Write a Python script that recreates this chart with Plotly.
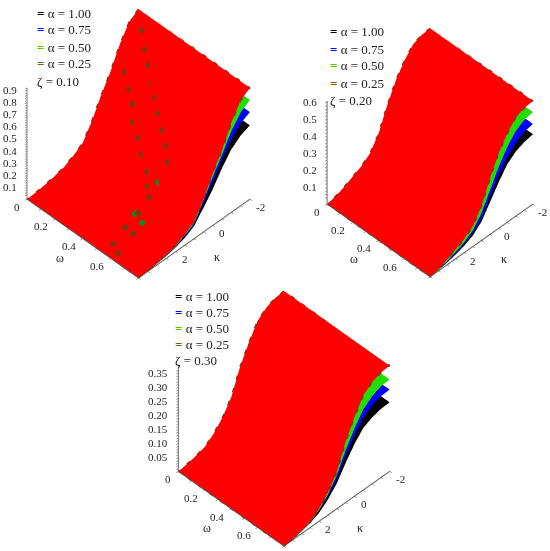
"""Three stacked-surface panels (Maple look): u(omega, kappa) for four alpha values."""
import plotly.graph_objects as go

KAPPA = [-2, -1.5, -1, -0.5, 0, 0.5, 1, 1.5, 2, 2.5, 3, 3.5, 4]
OMEGA = [0, 0.8]
ALPHA_NAMES = ["1.00", "0.75", "0.50", "0.25"]
COLORS = ["#000000", "#0000ff", "#22dd00", "#ff0000"]
KEY_COLORS = ["#000000", "#0000ff", "#55cc00", "#8a5a10"]
EDGE = "#7a3a10"

# zeta = 0.10, profile along kappa, alpha 1.00 / 0.75 / 0.50 / 0.25
P1_A100 = [.61, .58, .52, .42, .30, .20, .105, .06, .035, .018, .009, .003, 0]
P1_A075 = [.72, .68, .60, .49, .36, .24, .115, .07, .04, .022, .011, .004, 0]
P1_A050 = [.82, .77, .67, .53, .40, .26, .125, .08, .045, .026, .013, .0045, 0]
P1_A025 = [.92, .87, .74, .57, .43, .27, .14, .09, .05, .03, .015, .005, 0]

# zeta = 0.20
P2_A100 = [.41, .40, .38, .34, .27, .19, .11, .065, .04, .025, .012, .004, 0]
P2_A075 = [.47, .46, .43, .38, .31, .22, .13, .08, .05, .03, .015, .005, 0]
P2_A050 = [.54, .53, .50, .44, .36, .26, .16, .095, .06, .04, .02, .006, 0]
P2_A025 = [.605, .60, .58, .52, .44, .33, .20, .12, .08, .055, .03, .01, 0]

# zeta = 0.30
P3_A100 = [.245, .243, .235, .22, .185, .14, .09, .055, .03, .016, .008, .002, 0]
P3_A075 = [.29, .288, .278, .255, .215, .165, .105, .065, .037, .018, .009, .003, 0]
P3_A050 = [.326, .323, .31, .285, .24, .185, .118, .072, .04, .019, .0095, .0035, 0]
P3_A025 = [.375, .372, .36, .335, .28, .215, .13, .08, .045, .02, .011, .004, 0]

# dark flecks on the first surface (kappa, omega, height)
FLECK_KAPPA = [-1.48, -1.2, -.97, -.78, -.57, -.34, -.1, .09, .33,
               -.62, -.4, -.17, .09, .28, .49, .72, .97, 1.23, 1.86, 2.6, 2.65, 3.46, 3.67]
FLECK_OMEGA = [.094, .153, .205, .26, .31, .361, .42, .477, .52,
               .086, .146, .198, .239, .301, .357, .424, .464, .506, .511, .519, .58, .545, .609]
FLECK_Z = [.875, .80, .74, .655, .60, .535, .47, .41, .335,
           .62, .55, .495, .41, .35, .28, .22, .155, .125, .07, .04, .04, .016, .014]
GREEN_KAPPA = [.77, 1.95, 2.08]
GREEN_OMEGA = [.51, .5, .57]
GREEN_Z = [.205, .065, .06]

Z1_TICKS = [round(i * 0.02, 2) for i in range(2, 47)]
Z2_TICKS = [round(i * 0.02, 2) for i in range(2, 31)]
Z3_TICKS = [round(i * 0.01, 2) for i in range(1, 37)]
Z1_MAJOR = [0.1, 0.2, 0.3, 0.4, 0.5, 0.6, 0.7, 0.8, 0.9]
Z2_MAJOR = [0.1, 0.2, 0.3, 0.4, 0.5, 0.6]
Z3_MAJOR = [0.05, 0.1, 0.15, 0.2, 0.25, 0.3, 0.35]
KAPPA_TICKS = [-2, -1.5, -1, -0.5, 0, 0.5, 1, 1.5, 2, 2.5, 3, 3.5, 4]
KAPPA_MAJOR = [-2, 0, 2]
OMEGA_TICKS = [0, 0.1, 0.2, 0.3, 0.4, 0.5, 0.6, 0.7, 0.8]
OMEGA_MAJOR = [0, 0.2, 0.4, 0.6]

SERIF = "Liberation Serif"
TICK_FONT = dict(family=SERIF, size=11, color="#222222")
TITLE_FONT = dict(family=SERIF, size=12, color="#222222")


def axis(ticks, rng):
    # labels are placed as scene annotations, plotly's own sit too far along the tick direction
    return dict(
        title=dict(text=""),
        range=rng, autorange=False,
        tickmode="array", tickvals=ticks, ticktext=[""] * len(ticks),
        ticks="outside", ticklen=3, tickcolor="#555555",
        showline=True, linecolor="#555555", linewidth=2,
        showgrid=False, zeroline=False, showbackground=False, showspikes=False,
    )


def note(x, y, z, text, xanchor, xshift, yshift, font=TICK_FONT):
    return dict(x=x, y=y, z=z, text=text, showarrow=False, font=font,
                xanchor=xanchor, yanchor="middle", xshift=xshift, yshift=yshift)


fig = go.Figure()


def add_panel(name, profiles, z_top, z_ticks, z_major, z_fmt, domain, size, z_size, shift=0.0):
    for prof, color in zip(profiles, COLORS):
        fig.add_surface(
            scene=name, x=KAPPA, y=OMEGA, z=[prof, prof],
            colorscale=[[0, color], [1, color]], showscale=False,
            lighting=dict(ambient=1, diffuse=0, specular=0, fresnel=0),
            hoverinfo="skip",
        )
    top = profiles[-1]
    edge_x = KAPPA + [KAPPA[-1], KAPPA[-1]] + KAPPA[::-1] + [KAPPA[0], KAPPA[0]]
    edge_y = [OMEGA[0]] * len(KAPPA) + [OMEGA[0], OMEGA[1]] + [OMEGA[1]] * len(KAPPA) + [OMEGA[1], OMEGA[0]]
    edge_z = top + [top[-1], top[-1]] + top[::-1] + [top[0], top[0]]
    fig.add_scatter3d(
        scene=name, x=edge_x, y=edge_y, z=edge_z, mode="lines",
        line=dict(color=EDGE, width=3, dash="dash"), showlegend=False, hoverinfo="skip",
    )
    notes = [note(4, 0, t, z_fmt(t), "right", -8, 0) for t in z_major]
    notes += [note(k, 0.8, 0, f"{k:g}", "left", 4, -8) for k in KAPPA_MAJOR]
    notes += [note(4, w, 0, f"{w:g}", "right", -5, -8) for w in OMEGA_MAJOR]
    notes.append(note(4, 0.5, 0, "\u03c9", "center", -37, -10, TITLE_FONT))
    notes.append(note(1, 0.8, 0, "\u03ba", "center", 23, -19, TITLE_FONT))
    fig.update_layout({name: dict(
        domain=domain,
        xaxis=axis(KAPPA_TICKS, [-2, 4]),
        yaxis=axis(OMEGA_TICKS, [0, 0.8]),
        zaxis=axis(z_ticks, [0, z_top]),
        annotations=notes,
        # in orthographic mode the aspect ratio, not the eye distance, sets the size
        aspectmode="manual", aspectratio=dict(x=size, y=size, z=z_size),
        camera=dict(
            eye=dict(x=1.25 + shift, y=1.25 - shift, z=1.7678),
            center=dict(x=shift, y=-shift, z=0),
            up=dict(x=0, y=0, z=1),
            projection=dict(type="orthographic"),
        ),
        bgcolor="white",
    )})


add_panel("scene", [P1_A100, P1_A075, P1_A050, P1_A025], 0.92, Z1_TICKS, Z1_MAJOR,
          lambda t: f"{t:.1f}", dict(x=[0, 0.504], y=[0.48, 1]), 1.0985, 1.097)
add_panel("scene2", [P2_A100, P2_A075, P2_A050, P2_A025], 0.605, Z2_TICKS, Z2_MAJOR,
          lambda t: f"{t:.1f}", dict(x=[0.55, 1], y=[0.463, 0.983]), 1.015, 1.015, 0.015)
add_panel("scene3", [P3_A100, P3_A075, P3_A050, P3_A025], 0.375, Z3_TICKS, Z3_MAJOR,
          lambda t: f"{t:.2f}", dict(x=[0.26, 0.773], y=[0, 0.481]), 1.128, 1.128)

fig.add_scatter3d(
    scene="scene", x=FLECK_KAPPA, y=FLECK_OMEGA, z=FLECK_Z, mode="markers",
    marker=dict(color=EDGE, size=2.5, symbol="diamond"), showlegend=False, hoverinfo="skip",
)
fig.add_scatter3d(
    scene="scene", x=GREEN_KAPPA, y=GREEN_OMEGA, z=GREEN_Z, mode="markers",
    marker=dict(color="#0a8a20", size=2.5, symbol="diamond"), showlegend=False, hoverinfo="skip",
)


def legend(x0, y0, step, zeta):
    # one row per alpha, then the zeta value; pixel positions from the top left
    rows = [f"<span style='color:{c}'><b>=</b></span> \u03b1 = {n}" for c, n in zip(KEY_COLORS, ALPHA_NAMES)]
    rows.append(f"\u03b6 = {zeta}")
    for i, text in enumerate(rows):
        fig.add_annotation(
            text=text, xref="paper", yref="paper", xanchor="left", yanchor="middle",
            x=x0 / 550, y=1 - (y0 + i * step) / 551, showarrow=False,
            font=dict(family=SERIF, size=13, color="#222222"),
        )


legend(35, 13, 17, "0.10")
legend(328, 32, 17, "0.20")
legend(173, 296, 16, "0.30")

fig.update_layout(
    width=550, height=551, margin=dict(l=0, r=0, t=0, b=0),
    paper_bgcolor="white", showlegend=False,
)
# the default page margin would push the 550 px figure out of the window
fig.write_html("out.html", post_script="document.body.style.margin='0';",
               config=dict(displayModeBar=False))
